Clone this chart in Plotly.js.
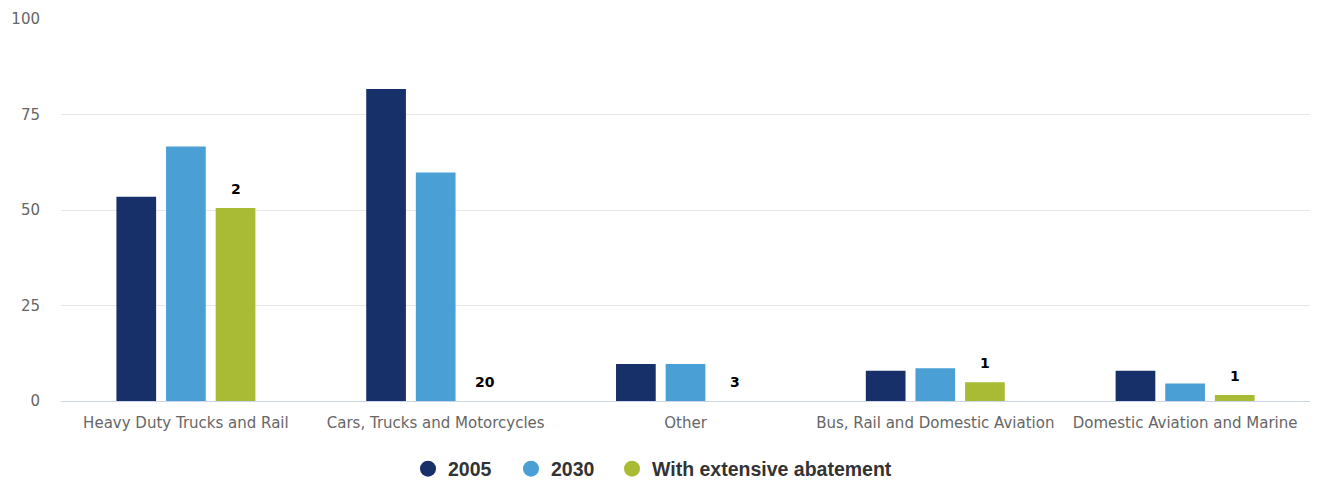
<!DOCTYPE html>
<html>
<head>
<meta charset="utf-8">
<script src="https://cdn.plot.ly/plotly-3.0.1.min.js"></script>
<style>html,body{margin:0;padding:0;background:#fff;}#chart{width:1317px;height:481px;}</style>
</head>
<body>
<div id="chart"></div>
<script>
var categories = ["Heavy Duty Trucks and Rail", "Cars, Trucks and Motorcycles", "Other", "Bus, Rail and Domestic Aviation", "Domestic Aviation and Marine"];
var seriesNames = ["2005", "2030", "With extensive abatement"];
var values2005 = [53.5, 81.7, 9.7, 7.9, 7.9];
var values2030 = [66.6, 59.8, 9.7, 8.6, 4.6];
var valuesAbatement = [50.5, 0, 0, 4.9, 1.6];
var abatementLabels = ["2", "20", "3", "1", "1"];
var yTicks = [0, 25, 50, 75, 100];
var colors = ["#17306a", "#4a9fd5", "#a9bb35"];

var seriesValues = [values2005, values2030, valuesAbatement];
var legendIds = ["legend", "legend2", "legend3"];
var legendX = [0.3098, 0.388, 0.4647];
var traces = [];
seriesValues.forEach(function (vals, i) {
  traces.push({
    type: "bar", x: categories, y: vals, name: seriesNames[i],
    marker: {color: colors[i], line: {width: 0}},
    showlegend: false, legendgroup: "g" + i, hoverinfo: "x+y"
  });
});
seriesNames.forEach(function (n, i) {
  traces.push({
    type: "scatter", mode: "markers", x: [null], y: [null], name: n,
    marker: {color: colors[i], size: 20, symbol: "circle"},
    legend: legendIds[i],
    legendgroup: "g" + i, showlegend: true, hoverinfo: "skip"
  });
});

// data labels above the abatement bars (third bar of each group)
var annotations = categories.map(function (c, k) {
  return {
    x: c, y: valuesAbatement[k], xref: "x", yref: "y",
    xshift: 49.7, yshift: 9, yanchor: "bottom", showarrow: false,
    text: "<b>" + abatementLabels[k] + "</b>",
    font: {family: "DejaVu Sans, sans-serif", size: 14, color: "#000"}
  };
});

var layout = {
  width: 1317, height: 481,
  margin: {l: 61, r: 7, t: 19, b: 80, autoexpand: false},
  paper_bgcolor: "#fff", plot_bgcolor: "#fff",
  barmode: "group", bargap: 0.404, bargroupgap: 0.2,
  font: {family: "DejaVu Sans, sans-serif", color: "#666"},
  xaxis: {
    type: "category", showgrid: false, zeroline: false,
    showline: true, linecolor: "#ccd6eb", linewidth: 1,
    tickfont: {size: 15, color: "#666"}, ticks: "", ticklabelstandoff: 8
  },
  yaxis: {
    range: [0, 100], tickvals: yTicks, ticktext: yTicks.map(String),
    showgrid: true, gridcolor: "#e6e6e6", gridwidth: 1,
    zeroline: false, showline: false, ticks: "",
    tickfont: {size: 15, color: "#666"}, ticklabelstandoff: 20
  },
  annotations: annotations,
  showlegend: true
};
legendIds.forEach(function (id, i) {
  layout[id] = {
    orientation: "h", xref: "container", x: legendX[i], xanchor: "left",
    yref: "container", y: 0.025, yanchor: "middle",
    font: {family: "Liberation Sans, Arial, sans-serif", size: 19.5, color: "#333", weight: "bold"},
    itemsizing: "trace", bgcolor: "rgba(0,0,0,0)"
  };
});

Plotly.newPlot("chart", traces, layout, {displayModeBar: false, staticPlot: true});
</script>
</body>
</html>
